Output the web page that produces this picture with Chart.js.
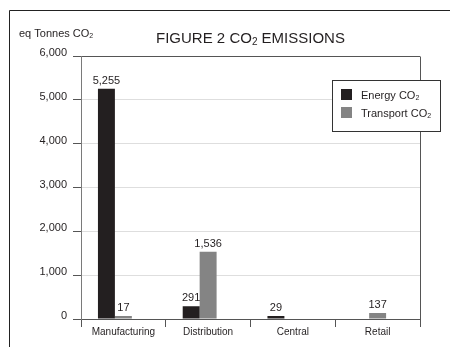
<!DOCTYPE html>
<html>
<head>
<meta charset="utf-8">
<script src="https://cdn.jsdelivr.net/npm/chart.js@4/dist/chart.umd.min.js"></script>
<style>
  html, body { margin: 0; padding: 0; background: #fff; }
  #wrap { width: 450px; height: 347px; position: relative; }
</style>
</head>
<body>
<div id="wrap"><canvas id="c" width="450" height="347"></canvas></div>
<script>
// Emissions by business area, in equivalent tonnes of CO2
const categories = ['Manufacturing', 'Distribution', 'Central', 'Retail'];
const energyCO2 = [5255, 291, 29, null];
const transportCO2 = [17, 1536, null, 137];
const yTicks = [0, 1000, 2000, 3000, 4000, 5000, 6000];

const chartTitle = 'FIGURE 2 CO₂ EMISSIONS';
const yAxisTitle = 'eq Tonnes CO₂';
const seriesNames = ['Energy CO₂', 'Transport CO₂'];

const FONT = '"Liberation Sans", Arial, Helvetica, sans-serif';
const INK = '#231f20';

// Draw text where '₂' is rendered as a small lowered "2"
function drawRich(ctx, text, x, y, size, align) {
  const segs = text.split(/(₂)/).filter(s => s.length);
  const normal = size + 'px ' + FONT;
  const small = Math.round(size * 0.64) + 'px ' + FONT;
  const parts = segs.map(s => {
    const sub = s === '₂';
    ctx.font = sub ? small : normal;
    const t = sub ? '2' : s;
    return { t, sub, font: ctx.font, w: ctx.measureText(t).width };
  });
  const total = parts.reduce((a, p) => a + p.w, 0);
  let cx = align === 'center' ? x - total / 2 : (align === 'right' ? x - total : x);
  ctx.textAlign = 'left';
  ctx.textBaseline = 'alphabetic';
  parts.forEach(p => {
    ctx.font = p.font;
    ctx.fillText(p.t, cx, p.sub ? y + size * 0.1 : y);
    cx += p.w;
  });
}

const decorPlugin = {
  id: 'decor',
  beforeDraw(chart) {
    const ctx = chart.ctx;
    ctx.save();
    // page frame
    ctx.strokeStyle = '#222';
    ctx.lineWidth = 1;
    ctx.beginPath();
    ctx.moveTo(9.5, chart.height);
    ctx.lineTo(9.5, 10.5);
    ctx.lineTo(chart.width, 10.5);
    ctx.stroke();
    ctx.restore();
  },
  afterDatasetsDraw(chart) {
    const ctx = chart.ctx;
    const area = chart.chartArea;
    ctx.save();
    // right edge of the plot box
    ctx.strokeStyle = '#555';
    ctx.lineWidth = 1;
    ctx.beginPath();
    const rx = Math.round(area.right) + 0.5;
    ctx.moveTo(rx, Math.round(area.top) + 0.5);
    ctx.lineTo(rx, Math.round(area.bottom) + 0.5);
    ctx.stroke();

    // value labels above bars
    ctx.fillStyle = INK;
    ctx.font = '11px ' + FONT;
    ctx.textAlign = 'center';
    ctx.textBaseline = 'middle';
    chart.data.datasets.forEach((ds, di) => {
      if (!ds.label) return;
      const meta = chart.getDatasetMeta(di);
      meta.data.forEach((bar, i) => {
        const v = ds.data[i];
        if (v === null || v === undefined) return;
        ctx.fillText(v.toLocaleString('en-US'), bar.x, bar.y - 8);
      });
    });
    ctx.restore();
  },
  afterDraw(chart) {
    const ctx = chart.ctx;
    const area = chart.chartArea;
    ctx.save();
    ctx.fillStyle = INK;
    // titles
    drawRich(ctx, chartTitle, (area.left + area.right) / 2, 43, 15, 'center');
    drawRich(ctx, yAxisTitle, 19, 37, 11, 'left');

    // legend box
    const bx = area.right - 88, by = area.top + 24, bw = 108, bh = 51;
    ctx.fillStyle = '#fff';
    ctx.fillRect(bx, by, bw, bh);
    ctx.strokeStyle = '#333';
    ctx.lineWidth = 1;
    ctx.strokeRect(Math.round(bx) + 0.5, Math.round(by) + 0.5, bw, bh);
    const items = chart.data.datasets.filter(d => d.label);
    items.forEach((ds, k) => {
      const sy = by + 9 + k * 18;
      ctx.fillStyle = ds.backgroundColor;
      ctx.fillRect(bx + 9, sy, 11, 11);
      ctx.fillStyle = INK;
      drawRich(ctx, ds.label, bx + 29, sy + 9.5, 11, 'left');
    });
    ctx.restore();
  }
};

new Chart(document.getElementById('c'), {
  type: 'bar',
  data: {
    labels: categories,
    datasets: [
      { label: seriesNames[0], data: energyCO2, backgroundColor: '#231f20' },
      { label: seriesNames[1], data: transportCO2, backgroundColor: '#848484' },
      // empty third slot in each group, as in the original layout
      { label: '', data: categories.map(() => null), backgroundColor: 'rgba(0,0,0,0)' }
    ]
  },
  options: {
    responsive: false,
    animation: false,
    devicePixelRatio: 1,
    layout: { padding: { top: 56, right: 30, left: 0, bottom: 0 } },
    datasets: { bar: { categoryPercentage: 0.6, barPercentage: 1.0, borderWidth: 0, minBarLength: 3 } },
    plugins: { legend: { display: false }, title: { display: false }, tooltip: { enabled: false } },
    scales: {
      x: {
        grid: { display: true, drawOnChartArea: false, offset: true, tickLength: 8, tickColor: '#555', lineWidth: 1 },
        border: { display: true, color: '#555' },
        ticks: { font: { size: 10, family: FONT }, color: INK, padding: -1, maxRotation: 0, autoSkip: false },
        afterFit(s) { s.height = 28; }
      },
      y: {
        min: yTicks[0],
        max: yTicks[yTicks.length - 1],
        afterBuildTicks(s) { s.ticks = yTicks.map(v => ({ value: v })); },
        ticks: {
          font: { size: 11, family: FONT }, color: INK, padding: 6, labelOffset: -3,
          callback: v => v.toLocaleString('en-US')
        },
        grid: {
          color: c => (c.tick && (c.tick.value === yTicks[0] || c.tick.value === yTicks[yTicks.length - 1])) ? '#555' : '#dedede',
          tickColor: '#555', tickLength: 8, lineWidth: 1
        },
        border: { display: true, color: '#7a7a7a' },
        afterFit(s) { s.width = 81; }
      }
    }
  },
  plugins: [decorPlugin]
});
</script>
</body>
</html>
